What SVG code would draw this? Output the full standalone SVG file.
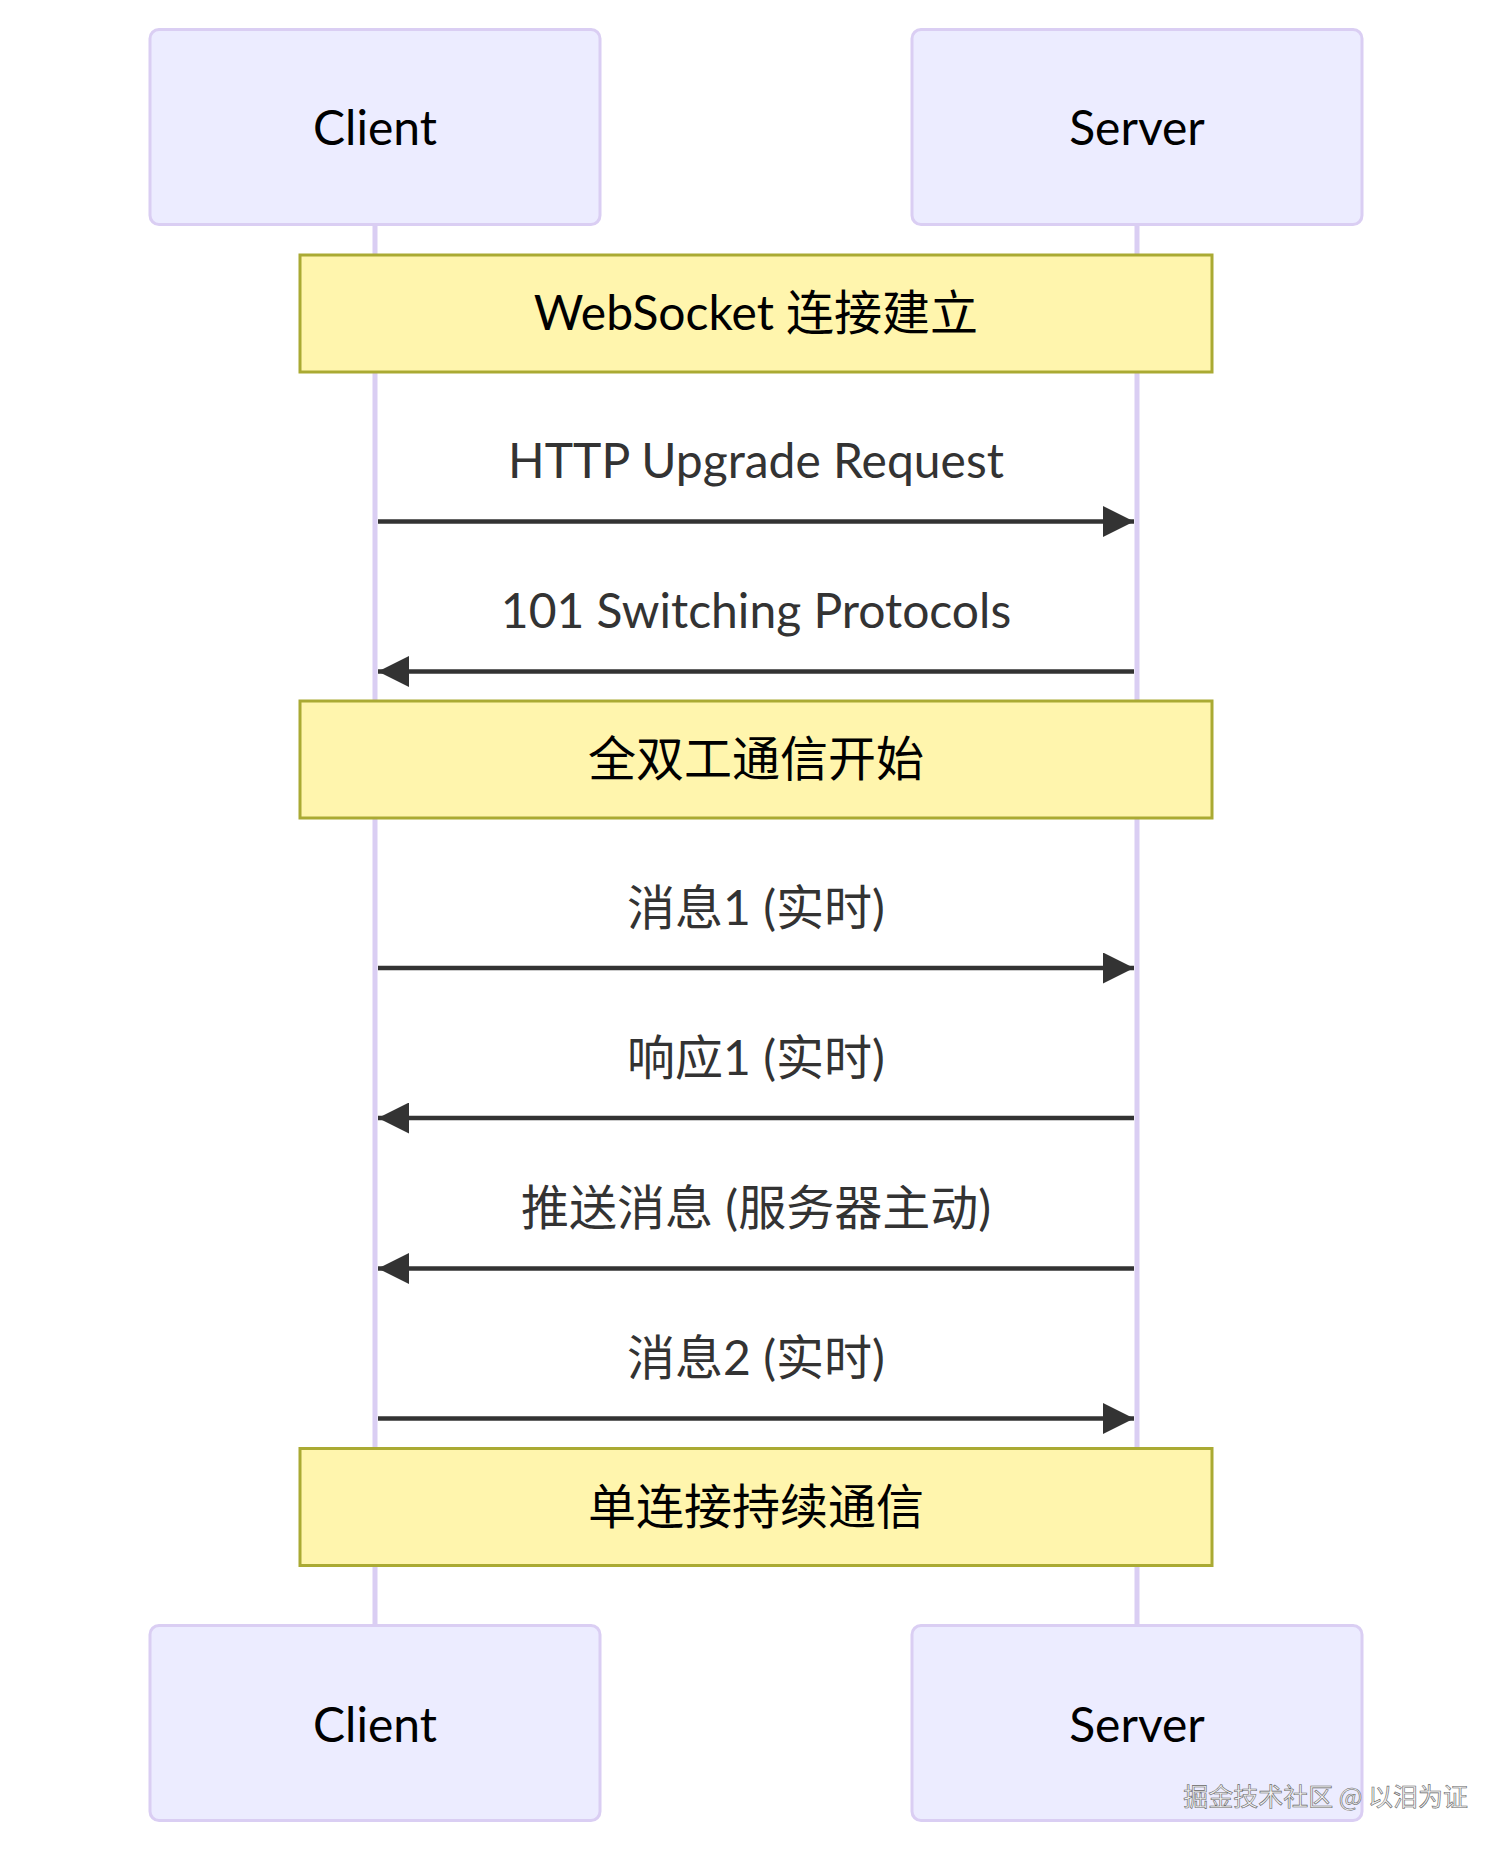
<svg xmlns="http://www.w3.org/2000/svg" width="1512" height="1854" viewBox="0 0 1512 1854">
<defs>
<style>
.actor{fill:#ECECFF;stroke:#dacef3;stroke-width:3}
.actorText{font-family:Lato,"Noto Sans CJK SC",sans-serif;font-size:48px;fill:#000;text-anchor:middle}
.life{stroke:#dacef3;stroke-width:5}
.note{fill:#fff5ad;stroke:#aaaa33;stroke-width:3}
.noteText{font-family:Lato,"Noto Sans CJK SC",sans-serif;font-size:48px;fill:#000;text-anchor:middle}
.msg{stroke:#333;stroke-width:4.5;fill:none}
.msgText{font-family:Lato,"Noto Sans CJK SC",sans-serif;font-size:48px;fill:#333;text-anchor:middle}
.wm{font-family:"Noto Sans CJK SC",sans-serif;font-size:25px;fill:#f4f4f4;stroke:#666;stroke-width:0.6;text-anchor:end}
</style>
<marker id="ah" viewBox="0 0 10 10" refX="10" refY="5" markerUnits="userSpaceOnUse" markerWidth="33" markerHeight="31" orient="auto">
<path d="M0 0 L10 5 L0 10 z" fill="#333"/>
</marker>
</defs>
<rect width="1512" height="1854" fill="#fff"/>
<g id="lifelines">
<line class="life" x1="375" y1="225" x2="375" y2="1626"/>
<line class="life" x1="1137" y1="225" x2="1137" y2="1626"/>
</g>
<g id="client-top"><rect class="actor" x="150" y="29.5" width="450" height="195" rx="9"/><text class="actorText" x="375" y="145">Client</text></g>
<g id="server-top"><rect class="actor" x="912" y="29.5" width="450" height="195" rx="9"/><text class="actorText" x="1137" y="145">Server</text></g>
<g id="client-bottom"><rect class="actor" x="150" y="1625.5" width="450" height="195" rx="9"/><text class="actorText" x="375" y="1742">Client</text></g>
<g id="server-bottom"><rect class="actor" x="912" y="1625.5" width="450" height="195" rx="9"/><text class="actorText" x="1137" y="1742">Server</text></g>
<g id="note1"><rect class="note" x="300" y="255" width="912" height="117"/><text class="noteText" x="756" y="330">WebSocket 连接建立</text></g>
<g id="note2"><rect class="note" x="300" y="701" width="912" height="117"/><text class="noteText" x="756" y="776">全双工通信开始</text></g>
<g id="note3"><rect class="note" x="300" y="1448.5" width="912" height="117"/><text class="noteText" x="756" y="1524">单连接持续通信</text></g>
<g id="connectors">
<line class="msg" x1="378" y1="521.5" x2="1134" y2="521.5" marker-end="url(#ah)"/>
<text class="msgText" x="756" y="478">HTTP Upgrade Request</text>
<line class="msg" x1="1134" y1="671.5" x2="378" y2="671.5" marker-end="url(#ah)"/>
<text class="msgText" x="756" y="628">101 Switching Protocols</text>
<line class="msg" x1="378" y1="968" x2="1134" y2="968" marker-end="url(#ah)"/>
<text class="msgText" x="756" y="925">消息1 (实时)</text>
<line class="msg" x1="1134" y1="1118" x2="378" y2="1118" marker-end="url(#ah)"/>
<text class="msgText" x="756" y="1075">响应1 (实时)</text>
<line class="msg" x1="1134" y1="1268.5" x2="378" y2="1268.5" marker-end="url(#ah)"/>
<text class="msgText" x="756" y="1225">推送消息 (服务器主动)</text>
<line class="msg" x1="378" y1="1418.5" x2="1134" y2="1418.5" marker-end="url(#ah)"/>
<text class="msgText" x="756" y="1375">消息2 (实时)</text>
</g>
<text class="wm" x="1468" y="1806">掘金技术社区 @ 以泪为证</text>
</svg>
